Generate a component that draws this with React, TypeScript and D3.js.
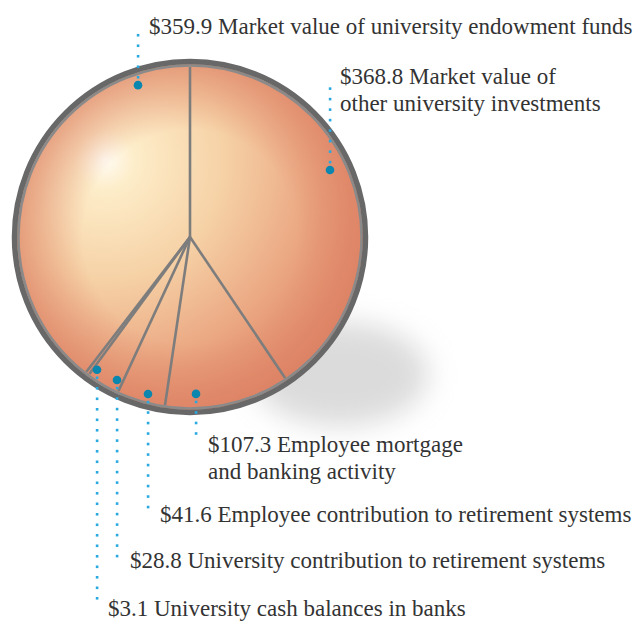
import React from "react";
import * as d3 from "d3";

const categories = [
  "Market value of other university investments",
  "Employee mortgage and banking activity",
  "Employee contribution to retirement systems",
  "University contribution to retirement systems",
  "University cash balances in banks",
  "Market value of university endowment funds",
];
const values = [368.8, 107.3, 41.6, 28.8, 3.1, 359.9];
const labelLines = [
  ["$368.8 Market value of", "other university investments"],
  ["$107.3 Employee mortgage", "and banking activity"],
  ["$41.6 Employee contribution to retirement systems"],
  ["$28.8 University contribution to retirement systems"],
  ["$3.1 University cash balances in banks"],
  ["$359.9 Market value of university endowment funds"],
];

// annotation layout: dot angle (deg, clockwise from top), dot radius, leader end y, text x, first baseline
const annot = [
  { a: 64.4, r: 155, endY: 80, tx: 340, ty: 84 },
  { a: 177.8, r: 157, endY: 442, tx: 208, ty: 452 },
  { a: 195, r: 162.5, endY: 514, tx: 160, ty: 522 },
  { a: 207, r: 160.5, endY: 560, tx: 130, ty: 568 },
  { a: 215, r: 162, endY: 606, tx: 108, ty: 616 },
  { a: 341, r: 160.6, endY: 26, tx: 149, ty: 34 },
];

const W = 642, H = 622;
const cx = 190, cy = 237, R = 170;

export default function App() {
  const pie = d3.pie<number>().sort(null).value((d) => d).startAngle(0).endAngle(2 * Math.PI);
  const arcs = pie(values);
  const ang = d3.scaleLinear().domain([0, 360]).range([0, 2 * Math.PI]);
  const pt = (aRad: number, r: number) => [cx + r * Math.sin(aRad), cy - r * Math.cos(aRad)];
  const font = "'Liberation Serif', serif";

  return (
    <svg width={W} height={H} style={{ position: "absolute", left: 0, top: 0 }}>
      <defs>
        <radialGradient id="ball" gradientUnits="userSpaceOnUse" cx={105} cy={160} r={300} fx={105} fy={160}>
          <stop offset="0" stopColor="#fffbf2" />
          <stop offset="0.1" stopColor="#fdedc9" />
          <stop offset="0.4" stopColor="#f6d1a6" />
          <stop offset="0.75" stopColor="#e89f7b" />
          <stop offset="1" stopColor="#de8466" />
        </radialGradient>
        <radialGradient id="vig" gradientUnits="userSpaceOnUse" cx={cx} cy={cy} r={R + 3}>
          <stop offset="0.62" stopColor="#dc7f62" stopOpacity={0} />
          <stop offset="1" stopColor="#dc7f62" stopOpacity={0.65} />
        </radialGradient>
        <filter id="blur" x="-50%" y="-50%" width="200%" height="200%">
          <feGaussianBlur stdDeviation="14" />
        </filter>
      </defs>
      {/* shadow */}
      <ellipse cx={340} cy={374} rx={88} ry={52} fill="#b8b8b8" opacity={0.5} filter="url(#blur)" />
      <circle cx={cx} cy={cy} r={R + 3} fill="url(#ball)" />
      <circle cx={cx} cy={cy} r={R + 3} fill="url(#vig)" />
      {arcs.map((d, i) => {
        const [x, y] = pt(d.startAngle, R);
        return <line key={"l" + i} x1={cx} y1={cy} x2={x} y2={y} stroke="#7d7d7d" strokeWidth={2.6} />;
      })}
      <circle cx={cx} cy={cy} r={R + 1.5} fill="none" stroke="#8a8a8a" strokeWidth={2.5} />
      <circle cx={cx} cy={cy} r={R + 5.5} fill="none" stroke="#686868" strokeWidth={5.5} />
      {annot.map((an, i) => {
        const [x, y] = pt(ang(an.a), an.r);
        const up = an.endY < y;
        const y1 = up ? y - 8 : y + 8;
        const n = Math.floor(Math.abs(an.endY - y1) / 10.5);
        const dots = d3.range(n + 1).map((k) => (up ? y1 - k * 10.5 : y1 + k * 10.5));
        const lx = Math.round(x);
        return (
          <g key={"a" + i}>
            {dots.map((dy, k) => (
              <rect key={k} x={lx - 1.2} y={dy - 1.2} width={2.6} height={2.6} fill="#2aa9e1" />
            ))}
            <circle cx={lx} cy={y} r={4.3} fill="#0b86ae" />
            {labelLines[i].map((t, j) => (
              <text key={j} x={an.tx} y={an.ty + j * 27} fontFamily={font} fontSize={23} fill="#333">
                {t}
              </text>
            ))}
          </g>
        );
      })}
    </svg>
  );
}
